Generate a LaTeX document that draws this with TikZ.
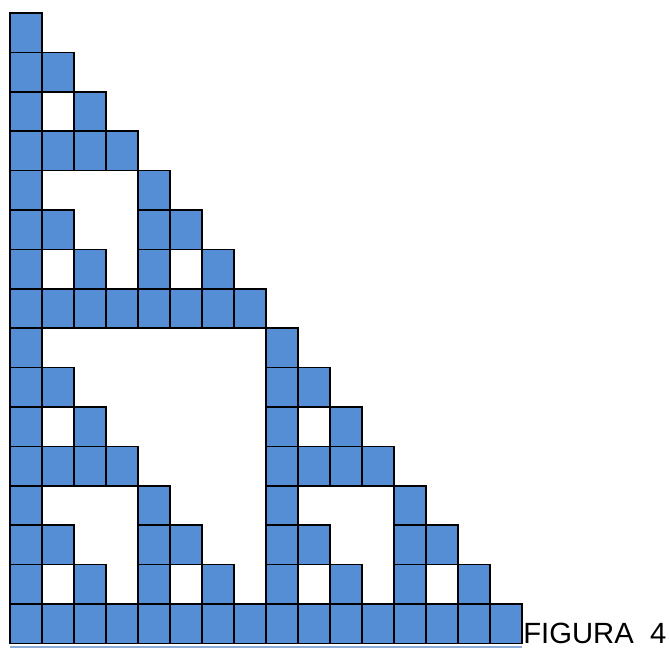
\documentclass[tikz,border=0pt]{standalone}
\usepackage{fontspec}
\setmainfont{Liberation Sans}
\usepackage{xcolor}
\usepackage{tikz}
\usetikzlibrary{positioning,calc}

\definecolor{cellblue}{RGB}{85,142,213}
\definecolor{ruleblue}{RGB}{140,170,215}

\tikzset{
  cell/.style={draw=black, line width=1.2pt, fill=cellblue, inner sep=0pt, outer sep=0pt,
    minimum width=0.8cm, minimum height=0.985cm},
  caption/.style={font=\fontsize{20.8pt}{25pt}\selectfont, inner sep=0pt, anchor=base west}
}

\begin{document}
\begin{tikzpicture}[x=0.025cm, y=-0.025cm]
  \useasboundingbox (0,0) rectangle (669,648);
  % rows of the triangle, top to bottom
  \foreach \r/\cols in {0/{0}, 1/{0,1}, 2/{0,2}, 3/{0,1,2,3},
      4/{0,4}, 5/{0,1,4,5}, 6/{0,2,4,6}, 7/{0,1,2,3,4,5,6,7},
      8/{0,8}, 9/{0,1,8,9}, 10/{0,2,8,10}, 11/{0,1,2,3,8,9,10,11},
      12/{0,4,8,12}, 13/{0,1,4,5,8,9,12,13}, 14/{0,2,4,6,8,10,12,14},
      15/{0,1,2,3,4,5,6,7,8,9,10,11,12,13,14,15}}{
    \foreach \c in \cols {
      \node[cell] (c-\r-\c) at ({26+32*\c},{32.7+39.4*\r}) {};
    }
  }
  % underline and label
  \draw[ruleblue, line width=1.2pt] ([yshift=-2.5pt]c-15-0.south west) -- ([yshift=-2.5pt]c-15-15.south east);
  \node[caption] (fig) at (523,643.5) {FIGURA\ \ 4};
\end{tikzpicture}
\end{document}
